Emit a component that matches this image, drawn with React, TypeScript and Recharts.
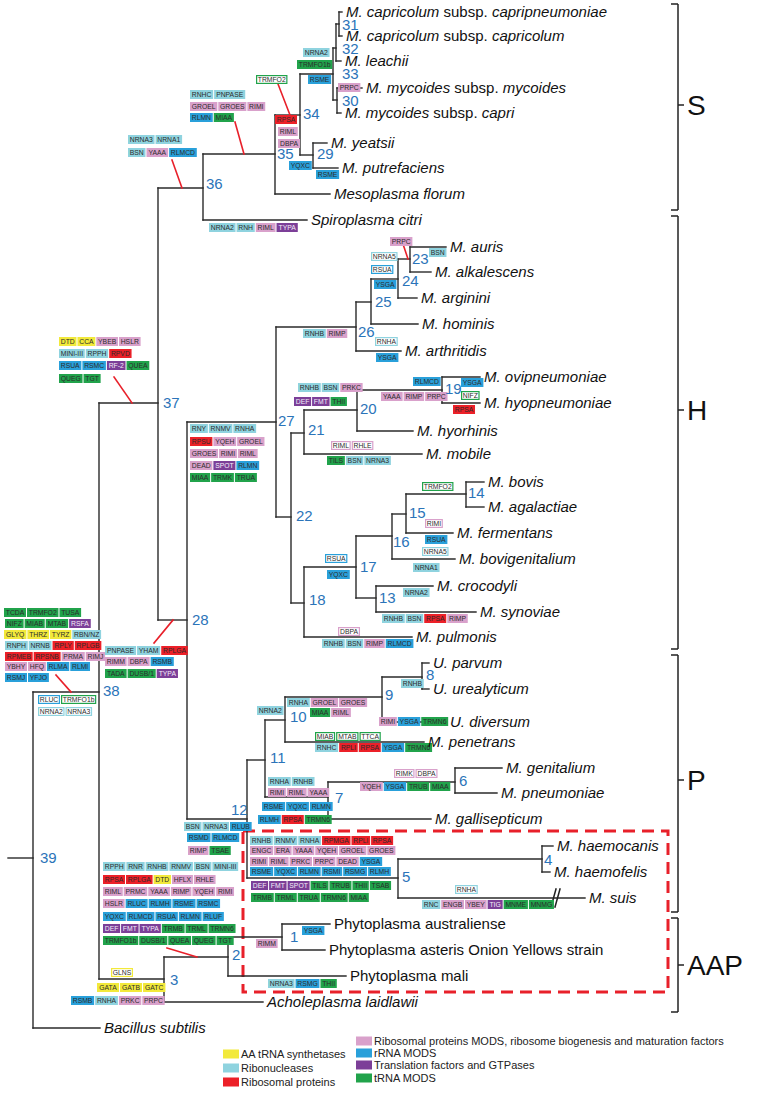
import React from 'react';
import { ComposedChart, XAxis, YAxis, Scatter, ReferenceLine, ReferenceArea } from 'recharts';

const WIDTH = 761;
const HEIGHT = 1101;
const FONT = '"Liberation Sans", Arial, Helvetica, sans-serif';

// ---------- tree: internal nodes [id, x (depth), y (row), parent] ----------
const internalNodes: [string, number, number, string | null][] = [
  ['39', 33, 858, null], ['38', 99, 692, '39'], ['37', 158, 403, '38'], ['36', 203, 188, '37'],
  ['35', 275, 154, '36'], ['34', 300, 115, '35'], ['33', 333, 74, '34'], ['32', 336, 48, '33'],
  ['31', 339, 24, '32'], ['30', 337, 100, '33'], ['29', 313, 155, '34'], ['28', 187, 620, '37'],
  ['27', 276, 422, '28'], ['26', 356, 327, '27'], ['25', 371, 302, '26'], ['24', 398, 279, '25'],
  ['23', 410, 259, '24'], ['22', 291, 517, '27'], ['21', 304, 433, '22'], ['20', 357, 410, '21'],
  ['19', 442, 390, '20'], ['18', 304, 603, '22'], ['17', 356, 567, '18'], ['16', 392, 536, '17'],
  ['15', 406, 514, '16'], ['14', 466, 494, '15'], ['13', 376, 598, '17'], ['12', 247, 819, '28'],
  ['11', 265, 760, '12'], ['10', 285, 720, '11'], ['9', 382, 697, '10'], ['8', 422, 677, '9'],
  ['7', 328, 797, '11'], ['6', 455, 782, '7'], ['5', 398, 878, '12'], ['4', 542, 859, '5'],
  ['3', 164, 979, '38'], ['2', 228, 957, '3'], ['1', 282, 937, '2'],
];
const rootStart = 8;

// ---------- leaves [label (*italic*), x (tip), y (row), parent] ----------
const leaves: [string, number, number, string][] = [
  ['*M. capricolum* subsp. *capripneumoniae*', 342, 12, '31'],
  ['*M. capricolum* subsp. *capricolum*', 342, 36, '31'],
  ['*M. leachii*', 341, 61, '32'],
  ['*M. mycoides* subsp. *mycoides*', 362, 88, '30'],
  ['*M. mycoides* subsp. *capri*', 341, 113, '30'],
  ['*M. yeatsii*', 327, 143, '29'],
  ['*M. putrefaciens*', 338, 168, '29'],
  ['*Mesoplasma florum*', 330, 194, '35'],
  ['*Spiroplasma citri*', 307, 220, '36'],
  ['*M. auris*', 446, 247, '23'],
  ['*M. alkalescens*', 431, 272, '23'],
  ['*M. arginini*', 417, 298, '24'],
  ['*M. hominis*', 418, 324, '25'],
  ['*M. arthritidis*', 401, 351, '26'],
  ['*M. ovipneumoniae*', 480, 377, '19'],
  ['*M. hyopneumoniae*', 480, 403, '19'],
  ['*M. hyorhinis*', 413, 431, '20'],
  ['*M. mobile*', 422, 454, '21'],
  ['*M. bovis*', 484, 482, '14'],
  ['*M. agalactiae*', 484, 507, '14'],
  ['*M. fermentans*', 453, 533, '15'],
  ['*M. bovigenitalium*', 455, 559, '16'],
  ['*M. crocodyli*', 433, 586, '13'],
  ['*M. synoviae*', 476, 612, '13'],
  ['*M. pulmonis*', 412, 637, '18'],
  ['*U. parvum*', 429, 663, '8'],
  ['*U. urealyticum*', 429, 689, '8'],
  ['*U. diversum*', 446, 722, '9'],
  ['*M. penetrans*', 424, 742, '10'],
  ['*M. genitalium*', 502, 768, '6'],
  ['*M. pneumoniae*', 497, 793, '6'],
  ['*M. gallisepticum*', 431, 819, '7'],
  ['*M. haemocanis*', 553, 846, '4'],
  ['*M. haemofelis*', 550, 872, '4'],
  ['*M. suis*', 585, 898, '5'],
  ['Phytoplasma australiense', 330, 924, '1'],
  ['Phytoplasma asteris Onion Yellows strain', 325, 950, '1'],
  ['Phytoplasma mali', 346, 976, '2'],
  ['*Acholeplasma laidlawii*', 263, 1002, '3'],
  ['*Bacillus subtilis*', 100, 1028, '39'],
];

// ---------- node number label spots [id, x, y] ----------
const nodeLabelSpots: [string, number, number][] = [
  ['39', 40, 858], ['38', 103, 691], ['37', 163, 403], ['36', 206, 184], ['35', 277, 154],
  ['34', 303, 114], ['33', 342, 74], ['32', 342, 49], ['31', 342, 25], ['30', 342, 101],
  ['29', 317, 154], ['28', 192, 620], ['27', 278, 421], ['26', 358, 332], ['25', 375, 302],
  ['24', 402, 281], ['23', 412, 259], ['22', 296, 516], ['21', 308, 430], ['20', 360, 409],
  ['19', 445, 389], ['18', 309, 600], ['17', 360, 567], ['16', 393, 542], ['15', 409, 513],
  ['14', 468, 493], ['13', 379, 598], ['12', 231, 810], ['11', 270, 758], ['10', 290, 717],
  ['9', 385, 695], ['8', 426, 675], ['7', 335, 798], ['6', 459, 781], ['5', 402, 877],
  ['4', 544, 860], ['3', 170, 980], ['2', 232, 955], ['1', 290, 937],
];

// ---------- gene annotation rows: category code (upper case = outlined) ----------
// y AA tRNA synth, c ribonucleases, r ribosomal proteins, p ribosomal MODS, b rRNA MODS, v translation, g tRNA MODS
const geneRows: { x: number; y: number; genes: string }[] = [
  { x: 303, y: 48, genes: 'c:NRNA2' },
  { x: 297, y: 60, genes: 'g:TRMFO1b' },
  { x: 308, y: 75, genes: 'b:RSME' },
  { x: 256, y: 75, genes: 'G:TRMFO2' },
  { x: 338, y: 83, genes: 'p:PRPC' },
  { x: 275, y: 115, genes: 'r:RPSA' },
  { x: 278, y: 127, genes: 'p:RIML' },
  { x: 278, y: 139, genes: 'p:DBPA' },
  { x: 289, y: 161, genes: 'b:YQXC' },
  { x: 316, y: 170, genes: 'b:RSME' },
  { x: 190, y: 90, genes: 'c:RNHC c:PNPASE' },
  { x: 190, y: 102, genes: 'p:GROEL p:GROES p:RIMI' },
  { x: 190, y: 113, genes: 'b:RLMN g:MIAA' },
  { x: 128, y: 135, genes: 'c:NRNA3 c:NRNA1' },
  { x: 128, y: 148, genes: 'c:BSN p:YAAA b:RLMCD' },
  { x: 209, y: 223, genes: 'c:NRNA2 c:RNH p:RIML v:TYPA' },
  { x: 59, y: 337, genes: 'y:DTD y:CCA p:YBEB p:HSLR' },
  { x: 59, y: 349, genes: 'c:MINI-III c:RPPH r:RPVD' },
  { x: 59, y: 361, genes: 'b:RSUA b:RSMC v:RF-2 g:QUEA' },
  { x: 59, y: 374, genes: 'g:QUEG g:TGT' },
  { x: 390, y: 237, genes: 'p:PRPC' },
  { x: 429, y: 248, genes: 'c:BSN' },
  { x: 371, y: 252, genes: 'C:NRNA5' },
  { x: 371, y: 265, genes: 'B:RSUA' },
  { x: 374, y: 280, genes: 'b:YSGA' },
  { x: 303, y: 329, genes: 'c:RNHB p:RIMP' },
  { x: 375, y: 337, genes: 'C:RNHA' },
  { x: 376, y: 353, genes: 'b:YSGA' },
  { x: 413, y: 377, genes: 'b:RLMCD' },
  { x: 461, y: 378, genes: 'b:YSGA' },
  { x: 461, y: 391, genes: 'G:NIFZ' },
  { x: 453, y: 405, genes: 'r:RPSA' },
  { x: 381, y: 392, genes: 'p:YAAA p:RIMP p:PRPC' },
  { x: 298, y: 383, genes: 'c:RNHB c:BSN p:PRKC' },
  { x: 294, y: 397, genes: 'v:DEF v:FMT g:THII' },
  { x: 190, y: 424, genes: 'c:RNY c:RNMV c:RNHA' },
  { x: 190, y: 437, genes: 'r:RPSU p:YQEH p:GROEL' },
  { x: 190, y: 449, genes: 'p:GROES p:RIMI p:RIML' },
  { x: 190, y: 461, genes: 'p:DEAD v:SPOT b:RLMN' },
  { x: 190, y: 473, genes: 'g:MIAA g:TRMK g:TRUA' },
  { x: 331, y: 441, genes: 'P:RIML P:RHLE' },
  { x: 327, y: 456, genes: 'g:TILS c:BSN c:NRNA3' },
  { x: 422, y: 482, genes: 'G:TRMFO2' },
  { x: 425, y: 519, genes: 'P:RIMI' },
  { x: 425, y: 535, genes: 'b:RSUA' },
  { x: 422, y: 547, genes: 'C:NRNA5' },
  { x: 413, y: 563, genes: 'c:NRNA1' },
  { x: 325, y: 554, genes: 'B:RSUA' },
  { x: 327, y: 570, genes: 'b:YQXC' },
  { x: 403, y: 588, genes: 'c:NRNA2' },
  { x: 382, y: 614, genes: 'c:RNHB c:BSN r:RPSA p:RIMP' },
  { x: 338, y: 627, genes: 'P:DBPA' },
  { x: 322, y: 639, genes: 'c:RNHB c:BSN p:RIMP b:RLMCD' },
  { x: 4, y: 608, genes: 'g:TCDA g:TRMFO2 g:TUSA' },
  { x: 5, y: 619, genes: 'g:NIFZ g:MIAB g:MTAB v:RSFA' },
  { x: 4, y: 630, genes: 'y:GLYQ y:THRZ y:TYRZ c:RBN/NZ' },
  { x: 5, y: 641, genes: 'c:RNPH c:NRNB r:RPLY r:RPLGB' },
  { x: 5, y: 652, genes: 'r:RPMEB r:RPSNB p:PRMA p:RIMJ' },
  { x: 5, y: 662, genes: 'p:YBHY p:HFQ b:RLMA b:RLMI' },
  { x: 5, y: 673, genes: 'b:RSMJ b:YFJO' },
  { x: 38, y: 695, genes: 'B:RLUC G:TRMFO1b' },
  { x: 38, y: 707, genes: 'C:NRNA2 C:NRNA3' },
  { x: 105, y: 646, genes: 'c:PNPASE c:YHAM r:RPLGA' },
  { x: 105, y: 657, genes: 'p:RIMM p:DBPA b:RSMB' },
  { x: 105, y: 669, genes: 'g:TADA g:DUSB/1 v:TYPA' },
  { x: 401, y: 679, genes: 'c:RNHB' },
  { x: 287, y: 698, genes: 'c:RNHA p:GROEL p:GROES' },
  { x: 310, y: 708, genes: 'g:MIAA p:RIML' },
  { x: 257, y: 706, genes: 'c:NRNA2' },
  { x: 379, y: 717, genes: 'p:RIMI b:YSGA g:TRMN6' },
  { x: 315, y: 732, genes: 'G:MIAB G:MTAB G:TTCA' },
  { x: 315, y: 743, genes: 'c:RNHC r:RPLI r:RPSA b:YSGA g:TRMN6' },
  { x: 394, y: 769, genes: 'P:RIMK P:DBPA' },
  { x: 360, y: 782, genes: 'p:YQEH b:YSGA g:TRUB g:MIAA' },
  { x: 268, y: 777, genes: 'c:RNHA c:RNHB' },
  { x: 268, y: 788, genes: 'p:RIMI p:RIML p:YAAA' },
  { x: 262, y: 802, genes: 'b:RSME b:YQXC b:RLMN' },
  { x: 258, y: 815, genes: 'b:RLMH r:RPSA g:TRMN6' },
  { x: 184, y: 822, genes: 'c:BSN c:NRNA3 b:RLUB' },
  { x: 187, y: 833, genes: 'b:RSMD b:RLMCD' },
  { x: 188, y: 846, genes: 'p:RIMP g:TSAE' },
  { x: 103, y: 862, genes: 'c:RPPH c:RNR c:RNHB c:RNMV c:BSN c:MINI-III' },
  { x: 103, y: 875, genes: 'r:RPSA r:RPLGA y:DTD p:HFLX p:RHLE' },
  { x: 103, y: 887, genes: 'p:RIML p:PRMC p:YAAA p:RIMP p:YQEH p:RIMI' },
  { x: 103, y: 899, genes: 'p:HSLR b:RLUC b:RLMH b:RSME b:RSMC' },
  { x: 103, y: 912, genes: 'b:YQXC b:RLMCD b:RSUA b:RLMN b:RLUF' },
  { x: 103, y: 924, genes: 'v:DEF v:FMT v:TYPA g:TRMB g:TRML g:TRMN6' },
  { x: 103, y: 936, genes: 'g:TRMFO1b g:DUSB/1 g:QUEA g:QUEG g:TGT' },
  { x: 111, y: 968, genes: 'Y:GLNS' },
  { x: 97, y: 983, genes: 'y:GATA y:GATB y:GATC' },
  { x: 71, y: 996, genes: 'b:RSMB c:RNHA p:PRKC p:PRPC' },
  { x: 256, y: 939, genes: 'p:RIMM' },
  { x: 250, y: 836, genes: 'c:RNHB c:RNMV c:RNHA r:RPMGA r:RPLI r:RPSA' },
  { x: 250, y: 846, genes: 'p:ENGC p:ERA p:YAAA p:YQEH p:GROEL p:GROES' },
  { x: 250, y: 857, genes: 'p:RIMI p:RIML p:PRKC p:PRPC p:DEAD b:YSGA' },
  { x: 250, y: 867, genes: 'b:RSME b:YQXC b:RLMN b:RSMI b:RSMG b:RLMH' },
  { x: 251, y: 881, genes: 'v:DEF v:FMT v:SPOT g:TILS g:TRUB g:THII g:TSAB' },
  { x: 251, y: 893, genes: 'g:TRMB g:TRML g:TRUA g:TRMN6 g:MIAA' },
  { x: 455, y: 885, genes: 'C:RNHA' },
  { x: 422, y: 900, genes: 'c:RNC p:ENGB p:YBEY v:TIG g:MNME g:MNMG' },
  { x: 302, y: 926, genes: 'b:YSGA' },
  { x: 268, y: 979, genes: 'c:NRNA3 b:RSMG g:THII' },
];

// ---------- red connector lines [x1, y1, x2, y2] ----------
const redConnectors: [number, number, number, number][] = [
  [278, 84, 290, 115], [235, 122, 244, 154], [172, 160, 182, 188], [114, 377, 132, 403],
  [403, 244, 408, 259], [56, 675, 71, 692], [154, 643, 173, 620], [167, 948, 197, 957],
];

// ---------- clades [name, top, bottom, middle] ----------
const clades: [string, number, number, number][] = [
  ['S', 4, 210, 105], ['H', 216, 649, 410], ['P', 655, 912, 780], ['AAP', 918, 1012, 965],
];

// ---------- legend ----------
const legendLabels = [
  'AA tRNA synthetases', 'Ribonucleases', 'Ribosomal proteins',
  'Ribosomal proteins MODS, ribosome biogenesis and maturation factors',
  'rRNA MODS', 'Translation factors and GTPases', 'tRNA MODS',
];
const legendCodes = ['y', 'c', 'r', 'p', 'b', 'v', 'g'];
const legendSpots: [number, number][] = [
  [223, 1054], [223, 1068], [223, 1082], [356, 1041], [356, 1053], [356, 1065], [356, 1078],
];

const CAT: Record<string, string> = {
  y: '#f2e93b', c: '#8fd3df', r: '#ec2028', p: '#d9a1cb', b: '#29a0da', v: '#7c3f98', g: '#21a34b',
};

const CW: Record<string, number> = {
  A: 0.667, B: 0.667, C: 0.722, D: 0.722, E: 0.667, F: 0.611, G: 0.778, H: 0.722, I: 0.278, J: 0.5,
  K: 0.667, L: 0.556, M: 0.833, N: 0.722, O: 0.778, P: 0.667, Q: 0.778, R: 0.722, S: 0.667, T: 0.611,
  U: 0.722, V: 0.667, W: 0.944, X: 0.667, Y: 0.667, Z: 0.611, '-': 0.333, '/': 0.278, b: 0.556,
};
const textWidth = (s: string, fs: number) => {
  let w = 0;
  for (const ch of s) w += CW[ch] ?? (/[0-9]/.test(ch) ? 0.556 : 0.5);
  return w * fs;
};

const BOX_FS = 6.8;
const BOX_H = 9;

const Empty = () => <g />;

const GeneRow = (props: any) => {
  const { cx, cy, payload } = props;
  if (cx == null || cy == null) return <g />;
  let x = cx;
  const out: React.ReactNode[] = [];
  String(payload.genes).split(' ').forEach((tok: string, i: number) => {
    const k = tok.indexOf(':');
    const code = tok.slice(0, k);
    const name = tok.slice(k + 1);
    const outlined = code !== code.toLowerCase();
    const color = CAT[code.toLowerCase()];
    const w = Math.max(15, textWidth(name, BOX_FS) + 3.5);
    out.push(
      <g key={i}>
        <rect
          x={outlined ? x + 0.6 : x}
          y={outlined ? cy + 0.6 : cy}
          width={outlined ? w - 1.2 : w}
          height={outlined ? BOX_H - 1.2 : BOX_H}
          fill={outlined ? '#ffffff' : color}
          stroke={outlined ? color : 'none'}
          strokeWidth={1.2}
        />
        <text
          x={x + w / 2}
          y={cy + BOX_H / 2}
          dy="0.36em"
          textAnchor="middle"
          fontSize={BOX_FS}
          fontFamily={FONT}
          fill={code === 'v' ? '#f4eef8' : '#2b2b2b'}
        >
          {name}
        </text>
      </g>
    );
    x += w + 1;
  });
  return <g>{out}</g>;
};

const LeafLabel = (props: any) => {
  const { cx, cy, payload } = props;
  if (cx == null || cy == null) return <g />;
  const parts = String(payload.label).split('*');
  return (
    <text x={cx + 4} y={cy} dy="0.35em" fontSize={15} fontFamily={FONT} fill="#111" style={{ whiteSpace: 'pre' }}>
      {parts.map((p: string, i: number) =>
        p ? (
          <tspan key={i} fontStyle={i % 2 === 1 ? 'italic' : 'normal'}>
            {p}
          </tspan>
        ) : null
      )}
    </text>
  );
};

const NodeLabel = (props: any) => {
  const { cx, cy, payload } = props;
  if (cx == null || cy == null) return <g />;
  return (
    <text x={cx} y={cy} dy="0.35em" fontSize={15} fontFamily={FONT} fill="#2b74b9">
      {payload.id}
    </text>
  );
};

const CladeLabel = (props: any) => {
  const { cx, cy, payload } = props;
  if (cx == null || cy == null) return <g />;
  return (
    <text x={cx} y={cy} dy="0.36em" fontSize={28} fontFamily={FONT} fill="#111">
      {payload.name}
    </text>
  );
};

const LegendItem = (props: any) => {
  const { cx, cy, payload } = props;
  if (cx == null || cy == null) return <g />;
  return (
    <g>
      <rect x={cx} y={cy - 4.5} width={16} height={9} fill={CAT[payload.code]} />
      <text x={cx + 18} y={cy} dy="0.35em" fontSize={11} fontFamily={FONT} fill="#222">
        {payload.label}
      </text>
    </g>
  );
};

export default function App() {
  const pos = new Map<string, { x: number; y: number }>();
  internalNodes.forEach(([id, x, y]) => pos.set(id, { x, y }));

  const segs: [number, number, number, number][] = [];
  const childYs = new Map<string, number[]>();
  const addChild = (parent: string, y: number) => {
    if (!childYs.has(parent)) childYs.set(parent, []);
    childYs.get(parent)!.push(y);
  };
  internalNodes.forEach(([, x, y, parent]) => {
    if (parent) {
      const p = pos.get(parent)!;
      segs.push([p.x, y, x, y]);
      addChild(parent, y);
    }
  });
  leaves.forEach(([, x, y, parent]) => {
    const p = pos.get(parent)!;
    segs.push([p.x, y, x, y]);
    addChild(parent, y);
  });
  internalNodes.forEach(([id, x]) => {
    const ys = childYs.get(id) || [];
    if (ys.length) segs.push([x, Math.min(...ys), x, Math.max(...ys)]);
  });
  const root = internalNodes[0];
  segs.push([rootStart, root[2], root[1], root[2]]);

  const leafPoints = leaves.map(([label, x, y]) => ({ label, x, y }));
  const nodeLabelPoints = nodeLabelSpots.map(([id, x, y]) => ({ id, x, y }));
  const bracketX = 678;
  const cladeLabelPoints = clades.map(([name, , , mid]) => ({ name, x: bracketX + 9, y: mid }));
  const legendPoints = legendLabels.map((label, i) => ({
    label,
    code: legendCodes[i],
    x: legendSpots[i][0],
    y: legendSpots[i][1],
  }));

  const bracketSegs: [number, number, number, number][] = [];
  clades.forEach(([, top, bottom, mid]) => {
    bracketSegs.push([bracketX, top, bracketX, bottom]);
    bracketSegs.push([bracketX - 7, top, bracketX, top]);
    bracketSegs.push([bracketX - 7, bottom, bracketX, bottom]);
    bracketSegs.push([bracketX, mid, bracketX + 6, mid]);
  });

  // suis branch break marks
  const suis = leaves.find((l) => l[0] === '*M. suis*')!;
  const breakSegs: [number, number, number, number][] = [
    [551, suis[2] + 9, 556, suis[2] - 9],
    [555, suis[2] + 9, 560, suis[2] - 9],
  ];

  // segment drawn as a two-point scatter series joined by a line (keeps draw order below boxes)
  const segSeries = (s: [number, number, number, number], key: string, stroke: string, w: number) => (
    <Scatter
      key={key}
      data={[
        { x: s[0], y: s[1] },
        { x: s[2], y: s[3] },
      ]}
      line={{ stroke, strokeWidth: w, strokeLinecap: 'square' }}
      lineType="joint"
      shape={Empty}
      isAnimationActive={false}
    />
  );

  const refLine = (s: [number, number, number, number], key: string, stroke: string, w: number) => (
    <ReferenceLine
      key={key}
      segment={[
        { x: s[0], y: s[1] },
        { x: s[2], y: s[3] },
      ]}
      stroke={stroke}
      strokeWidth={w}
      ifOverflow="visible"
    />
  );

  return (
    <div style={{ position: 'absolute', left: 0, top: 0, width: WIDTH, height: HEIGHT, background: '#fff' }}>
      <ComposedChart width={WIDTH} height={HEIGHT} margin={{ top: 0, right: 0, bottom: 0, left: 0 }}>
        <XAxis type="number" dataKey="x" domain={[0, WIDTH]} allowDataOverflow hide />
        <YAxis type="number" dataKey="y" domain={[0, HEIGHT]} reversed allowDataOverflow hide />
        <ReferenceArea
          x1={243}
          x2={668}
          y1={831}
          y2={992}
          fill="none"
          fillOpacity={0}
          stroke="#e8202a"
          strokeWidth={3}
          strokeDasharray="12 7"
          ifOverflow="visible"
        />
        {bracketSegs.map((s, i) => refLine(s, 'b' + i, '#222', 1.5))}
        {segs.map((s, i) => segSeries(s, 't' + i, '#2a2a2a', 1.4))}
        {breakSegs.map((s, i) => segSeries(s, 'k' + i, '#222', 1.5))}
        {redConnectors.map((s, i) => segSeries(s, 'r' + i, '#e8202a', 1.6))}
        <Scatter data={geneRows} shape={GeneRow} isAnimationActive={false} />
        <Scatter data={leafPoints} shape={LeafLabel} isAnimationActive={false} />
        <Scatter data={nodeLabelPoints} shape={NodeLabel} isAnimationActive={false} />
        <Scatter data={cladeLabelPoints} shape={CladeLabel} isAnimationActive={false} />
        <Scatter data={legendPoints} shape={LegendItem} isAnimationActive={false} />
      </ComposedChart>
    </div>
  );
}
